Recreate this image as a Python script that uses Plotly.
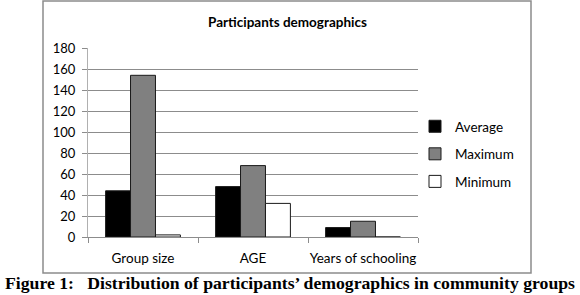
import plotly.graph_objects as go

categories = ["Group size", "AGE", "Years of schooling"]
average = [44, 48, 9]
maximum = [154, 68, 15]
minimum = [2, 32, 0]
series_names = ["Average", "Maximum", "Minimum"]
y_ticks = [0, 20, 40, 60, 80, 100, 120, 140, 160, 180]

FONT = "Lato, Carlito, Calibri, 'Open Sans', sans-serif"
GRID = "#8c8c8c"

fig = go.Figure()
fills = ["#000000", "#808080", "#ffffff"]
for name, vals, col in zip(series_names, [average, maximum, minimum], fills):
    fig.add_trace(go.Bar(
        x=categories, y=vals, name=name, legendgroup=name,
        marker=dict(color=col, line=dict(color="#1a1a1a", width=1)),
    ))

W, H = 580, 295
L, R, T, B = 88, 418, 48, 237
pw, ph = R - L, B - T

def px(x):
    return (x - L) / pw

def py(y):
    return (B - y) / ph

fig.update_layout(
    width=W, height=H,
    margin=dict(l=L, r=W - R, t=T, b=H - B, pad=0, autoexpand=False),
    paper_bgcolor="white", plot_bgcolor="white",
    barmode="group", bargap=0.32, bargroupgap=0,
    font=dict(family=FONT, size=13, color="#000000"),
    showlegend=True,
    legend=dict(
        x=px(415), y=py(111), xanchor="left", yanchor="top",
        font=dict(family=FONT, size=13.5, color="#000000"),
        tracegroupgap=7, itemwidth=30, bgcolor="rgba(0,0,0,0)",
    ),
    xaxis=dict(
        type="category", showgrid=False, showline=True, linecolor=GRID,
        linewidth=1, ticks="outside", tickson="boundaries", ticklen=5,
        tickcolor=GRID, ticklabelstandoff=9, tickangle=0, automargin=False,
        tickfont=dict(family=FONT, size=13.5, color="#000000"),
    ),
    yaxis=dict(
        range=[0, 180], tickvals=y_ticks, showgrid=True, gridcolor=GRID,
        gridwidth=1, showline=True, linecolor="#b0b0b0", linewidth=1,
        ticks="outside", ticklen=5, tickcolor=GRID, zeroline=False,
        ticklabelstandoff=4, automargin=False,
        tickfont=dict(family=FONT, size=13, color="#000000"),
    ),
)

# chart border
fig.add_shape(type="rect", xref="paper", yref="paper",
              x0=px(43), x1=px(531), y0=py(273), y1=py(1),
              line=dict(color="#8c8c8c", width=1.5), fillcolor="rgba(0,0,0,0)",
              layer="below")

fig.add_annotation(text="<b>Participants demographics</b>", xref="paper", yref="paper",
                   x=px(287), y=py(22), showarrow=False, xanchor="center", yanchor="middle",
                   font=dict(family=FONT, size=13.5, color="#000000"))

fig.add_annotation(
    text="<b>Figure 1:\u00a0\u00a0\u00a0Distribution of participants\u2019 demographics in community groups</b>",
    xref="paper", yref="paper", x=px(290), y=py(283), showarrow=False,
    xanchor="center", yanchor="middle",
    font=dict(family="'Liberation Serif', 'Times New Roman', serif", size=17.7, color="#000000"))

fig.write_html(
    "out.html",
    config={"displayModeBar": False},
    post_script="document.body.style.margin='0';document.body.style.padding='0';document.body.style.overflow='hidden';",
)
